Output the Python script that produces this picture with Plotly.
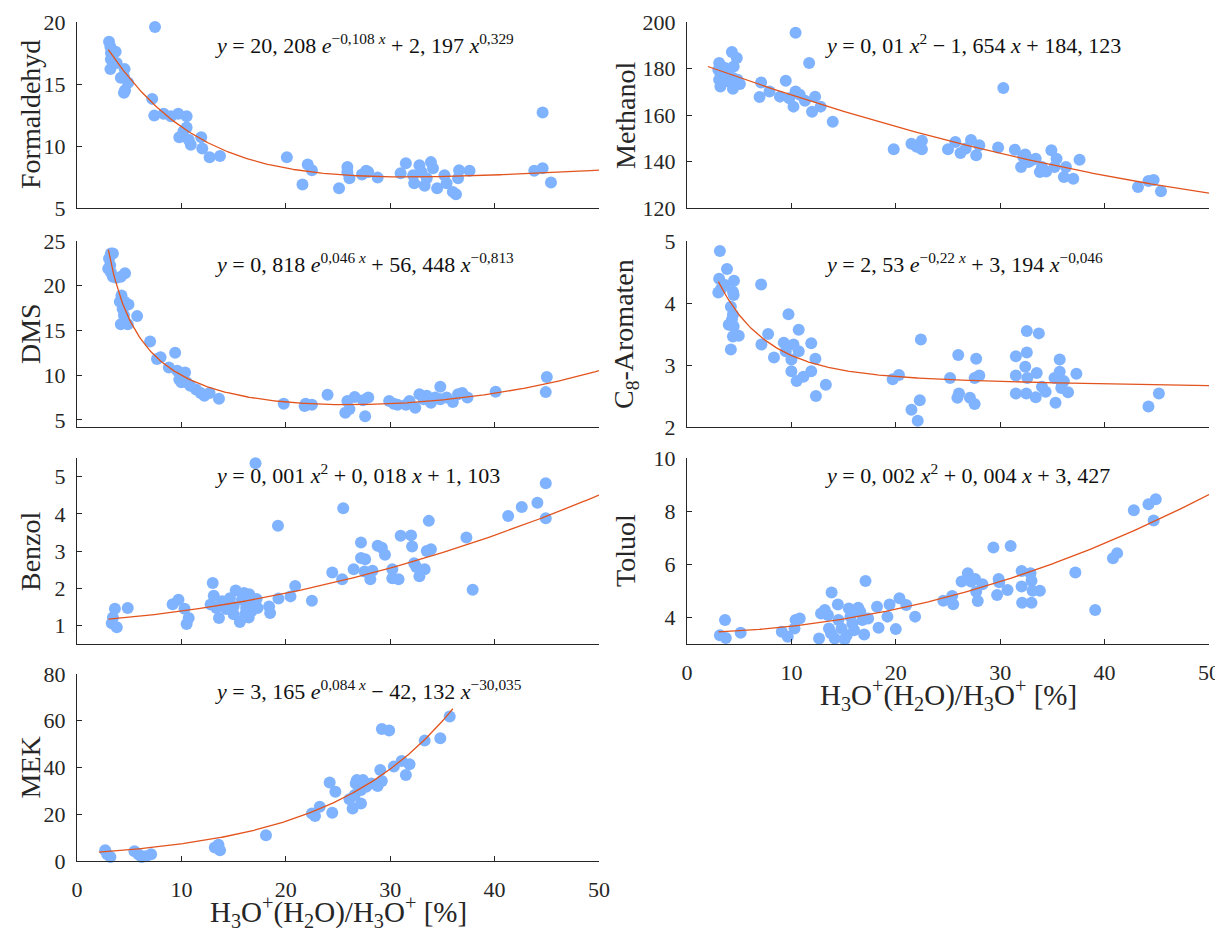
import numpy as np
import plotly.graph_objects as go

# ---------------- data ----------------
form_x = [3.07, 3.2, 3.25, 3.7, 3.25, 3.2, 3.8, 4.56, 4.5, 4.2, 4.9, 4.6, 4.5, 7.47, 7.2, 7.4, 8.3, 9.0, 9.7, 10.5,
          9.8, 10.2, 10.5, 10.7, 10.9, 11.9, 12.0, 12.7, 13.7, 20.1, 21.6, 22.1, 22.5, 25.1, 25.9, 26.1, 25.9, 27.3,
          27.7, 27.9, 28.8, 31.0, 31.5, 32.2, 32.3, 32.8, 33.0, 33.3, 33.5, 33.9, 34.1, 34.5, 35.2, 35.4, 36.0, 36.3,
          36.5, 36.6, 37.6, 43.8, 44.6, 44.6, 45.4]
form_y = [18.4, 18.0, 17.5, 17.6, 17.0, 16.2, 16.7, 16.2, 15.6, 15.5, 15.1, 14.5, 14.3, 19.6, 13.8, 12.45, 12.6, 12.4,
          12.6, 12.4, 10.7, 11.2, 11.5, 10.5, 10.1, 10.7, 9.8, 9.1, 9.2, 9.1, 6.9, 8.5, 8.05, 6.6, 8.3, 7.4, 7.9, 7.7,
          8.0, 7.9, 7.45, 7.8, 8.6, 7.65, 7.0, 8.45, 7.9, 6.8, 7.4, 8.7, 8.2, 6.6, 7.65, 7.0, 6.3, 6.1, 7.4, 8.05, 8.0,
          8.0, 8.2, 12.7, 7.05]

meth_x = [3.08, 3.27, 3.0, 3.2, 3.08, 3.2, 3.64, 3.83, 4.3, 4.47, 4.77, 4.4, 4.58, 4.4, 5.07, 4.84, 4.0, 7.1, 6.95,
          7.9, 8.9, 9.46, 9.8, 10.4, 10.4, 10.2, 10.8, 11.3, 11.7, 11.98, 12.27, 12.8, 13.96, 19.8, 21.5, 22.0, 22.5,
          22.5, 25.0, 25.7, 26.2, 26.7, 27.2, 27.7, 28.0, 29.8, 30.3, 31.4, 32.0, 32.2, 32.4, 32.7, 33.0, 33.4, 33.8,
          34.0, 34.4, 34.9, 35.4, 35.2, 36.1, 36.3, 37.0, 37.6, 43.2, 44.2, 44.7, 45.4]
meth_y = [182.4, 180.9, 179.5, 178.0, 175.2, 172.3, 180.2, 177.3, 187.1, 180.9, 184.5, 175.9, 173.7, 171.3, 173.3,
          175.2, 174.4, 174.0, 167.7, 170.1, 167.9, 174.7, 167.2, 195.4, 170.1, 163.6, 168.7, 166.1, 182.4, 161.4,
          167.9, 163.6, 157.1, 145.3, 147.6, 146.3, 148.9, 145.3, 145.3, 148.4, 143.7, 145.6, 149.2, 142.7, 147.0,
          146.0, 171.6, 145.1, 137.6, 142.0, 143.0, 139.8, 140.5, 141.2, 135.5, 137.6, 135.7, 144.8, 141.2, 137.6,
          133.3, 137.6, 132.6, 140.8, 129.0, 131.6, 132.0, 127.2]

dms_x = [3.25, 3.44, 3.07, 3.18, 2.99, 3.25, 3.44, 3.8, 4.2, 4.6, 4.26, 4.1, 4.56, 4.93, 4.37, 4.5, 4.2, 4.86, 5.76,
         7.0, 7.66, 8.0, 8.8, 9.4, 9.6, 10.35, 9.8, 10.0, 10.5, 10.85, 11.4, 11.85, 12.2, 12.7, 13.6, 19.8, 21.9,
         21.8, 22.5, 24.0, 25.7, 25.9, 26.1, 26.6, 27.4, 27.9, 27.6, 29.9, 30.35, 30.7, 31.5, 31.85, 32.4, 32.8, 33.2,
         33.5, 33.9, 34.3, 34.8, 34.8, 35.4, 36.0, 36.5, 36.9, 37.4, 40.1, 44.9, 45.0]
dms_y = [23.6, 23.6, 23.05, 22.3, 21.9, 21.5, 21.0, 20.9, 21.0, 21.4, 18.9, 18.2, 18.2, 17.9, 17.4, 16.7, 15.7, 15.7,
         16.6, 13.75, 11.8, 12.0, 10.85, 12.5, 10.5, 10.3, 9.5, 9.2, 9.2, 8.8, 8.4, 8.0, 7.7, 8.0, 7.35, 6.8, 6.8,
         6.55, 6.7, 7.8, 5.8, 7.1, 6.2, 7.55, 7.2, 7.5, 5.4, 7.1, 6.8, 6.7, 6.7, 7.1, 6.35, 7.85, 7.3, 7.7, 6.9, 7.5,
         8.7, 7.3, 7.5, 7.0, 7.85, 8.0, 7.5, 8.15, 8.1, 9.8]

c8_x = [3.15, 3.08, 3.0, 3.27, 3.83, 3.64, 4.5, 4.4, 4.47, 4.2, 4.4, 4.3, 4.0, 4.47, 4.4, 4.96, 4.2, 7.1, 7.13, 7.77,
        8.33, 9.27, 9.46, 9.72, 10.2, 10.0, 10.0, 10.7, 10.7, 10.5, 11.15, 11.9, 11.9, 12.3, 12.35, 13.3, 19.7, 20.3,
        21.5, 22.1, 22.4, 22.3, 25.2, 25.9, 26.05, 25.98, 27.1, 27.55, 27.7, 27.55, 28.0, 31.5, 31.5, 31.5, 32.4,
        32.55, 32.55, 32.5, 32.6, 33.5, 33.7, 33.4, 34.0, 34.35, 35.2, 35.3, 35.7, 35.7, 35.9, 35.85, 36.1, 36.5,
        37.3, 44.2, 45.2]
c8_y = [4.84, 4.39, 4.17, 4.23, 4.55, 4.29, 4.36, 4.18, 4.13, 3.94, 3.81, 3.73, 3.65, 3.62, 3.46, 3.47, 3.25, 4.30,
        3.33, 3.50, 3.12, 3.36, 3.22, 3.82, 3.33, 3.09, 2.90, 3.57, 3.22, 2.74, 2.81, 3.35, 2.90, 3.10, 2.50, 2.68,
        2.77, 2.84, 2.28, 2.10, 3.41, 2.43, 2.79, 2.47, 2.54, 3.16, 2.47, 2.37, 3.10, 2.79, 2.83, 3.14, 2.83, 2.54,
        2.97, 3.55, 3.20, 2.54, 2.79, 2.87, 3.51, 2.48, 2.65, 2.57, 2.79, 2.39, 3.09, 2.89, 2.71, 2.63, 2.74, 2.56,
        2.86, 2.33, 2.54]

benz_x = [3.33, 3.44, 3.63, 3.81, 4.86, 9.16, 9.72, 10.3, 10.7, 10.5, 13.0, 13.1, 12.8, 13.35, 13.6, 13.9, 14.3,
          14.65, 15.0, 15.2, 15.0, 15.6, 15.8, 16.0, 16.1, 16.2, 16.45, 16.5, 16.7, 17.1, 17.2, 17.3, 16.7, 18.4,
          18.5, 19.25, 19.3, 20.45, 20.9, 22.5, 24.45, 25.4, 25.5, 26.5, 27.2, 27.2, 27.6, 27.55, 28.3, 28.1, 28.8,
          29.2, 29.5, 30.2, 30.2, 30.8, 31.0, 32.0, 32.1, 32.3, 32.5, 32.8, 33.3, 33.7, 33.5, 33.9, 37.3, 37.9, 41.3,
          42.6, 44.1, 44.9, 44.9]
benz_y = [1.06, 1.21, 1.45, 0.95, 1.47, 1.57, 1.69, 1.45, 1.20, 1.04, 2.14, 1.80, 1.56, 1.47, 1.20, 1.65, 1.44, 1.73,
          1.51, 1.94, 1.30, 1.09, 1.69, 1.87, 1.29, 1.47, 1.21, 1.84, 1.60, 5.36, 1.71, 1.47, 1.38, 1.51, 1.33, 3.68,
          1.72, 1.78, 2.06, 1.66, 2.42, 2.24, 4.15, 2.51, 3.23, 2.81, 2.78, 2.45, 2.47, 2.24, 3.14, 3.09, 2.90, 2.51,
          2.27, 2.24, 3.41, 3.42, 3.12, 2.67, 2.57, 2.32, 2.51, 3.81, 3.0, 3.05, 3.36, 1.96, 3.94, 4.18, 4.30, 4.82,
          3.88]

tol_x = [3.15, 3.64, 3.72, 5.14, 9.08, 9.65, 10.3, 10.4, 10.8, 12.65, 12.84, 13.2, 13.5, 13.6, 13.85, 13.8, 14.15,
         14.45, 14.5, 14.8, 15.1, 15.3, 15.5, 15.65, 15.84, 16.0, 16.4, 16.6, 16.8, 16.97, 17.1, 17.35, 18.2, 18.35,
         19.2, 19.4, 20.0, 20.35, 21.0, 21.85, 24.55, 25.4, 25.5, 26.3, 26.9, 27.2, 27.6, 27.7, 27.85, 28.3, 29.35,
         29.7, 29.85, 29.9, 30.7, 31.0, 32.05, 32.05, 32.1, 32.9, 33.0, 33.1, 33.0, 33.8, 37.2, 39.1, 40.8, 41.2,
         42.8, 44.2, 44.9, 44.7]
tol_y = [3.33, 3.90, 3.23, 3.42, 3.46, 3.27, 3.58, 3.90, 3.96, 3.21, 4.15, 4.28, 4.09, 3.58, 4.94, 3.40, 3.21, 4.49,
         3.90, 3.58, 3.18, 3.33, 4.34, 4.03, 3.77, 3.52, 4.36, 4.21, 3.90, 3.36, 5.37, 3.96, 4.40, 3.61, 4.03, 4.49,
         3.56, 4.72, 4.47, 4.03, 4.63, 4.81, 4.50, 5.35, 5.66, 5.35, 5.45, 4.97, 4.62, 5.25, 6.63, 4.84, 5.45, 5.32,
         5.03, 6.69, 5.75, 5.16, 4.55, 5.66, 5.38, 5.0, 4.55, 5.0, 5.69, 4.28, 6.23, 6.42, 8.03, 8.26, 8.45, 7.65]

mek_x = [2.7, 2.9, 3.2, 5.5, 5.9, 6.2, 6.6, 7.1, 13.2, 13.55, 13.7, 18.1, 22.5, 22.8, 23.25, 24.2, 24.45, 24.75, 26.1,
         26.4, 26.6, 26.7, 26.8, 27.2, 27.2, 27.4, 27.7, 28.2, 28.8, 29.05, 29.2, 29.2, 29.9, 30.35, 31.1, 31.5,
         31.85, 33.3, 34.8, 35.7]
mek_y = [4.6, 2.9, 1.75, 4.2, 2.75, 1.75, 2.0, 2.9, 5.75, 7.0, 4.6, 11.0, 20.3, 19.3, 23.2, 33.6, 20.6, 29.6, 26.4,
         22.5, 28.2, 33.2, 34.6, 24.6, 30.4, 34.6, 31.8, 33.2, 32.1, 38.9, 34.2, 56.5, 55.8, 40.4, 42.8, 36.8, 41.4,
         51.5, 52.5, 61.8]

# fit coefficients as printed in the chart
form_fit = [20.208, -0.108, 2.197, 0.329]      # a*exp(b x) + c*x^d
meth_fit = [0.01, -1.654, 184.123]             # polynomial
dms_fit = [0.818, 0.046, 56.448, -0.813]
c8_fit = [2.53, -0.22, 3.194, -0.046]
benz_fit = [0.001, 0.018, 1.103]
tol_fit = [0.002, 0.004, 3.427]
mek_fit = [3.165, 0.084, -42.132, -30.035]

x_ticks = [0, 10, 20, 30, 40, 50]
x_title = "H<sub>3</sub>O<sup>+</sup>(H<sub>2</sub>O)/H<sub>3</sub>O<sup>+</sup> [%]"

panels = [
    dict(name="Formaldehyd", x=form_x, y=form_y, fit=form_fit, kind="exp", xr=(3.0, 50),
         yrange=[5, 20], yticks=[5, 10, 15, 20],
         eq="<i>y</i> = 20, 208 <i>e</i><sup>−0,108 <i>x</i></sup> + 2, 197 <i>x</i><sup>0,329</sup>"),
    dict(name="Methanol", x=meth_x, y=meth_y, fit=meth_fit, kind="poly", xr=(2.0, 50),
         yrange=[120, 200], yticks=[120, 140, 160, 180, 200],
         eq="<i>y</i> = 0, 01 <i>x</i><sup>2</sup> − 1, 654 <i>x</i> + 184, 123"),
    dict(name="DMS", x=dms_x, y=dms_y, fit=dms_fit, kind="exp", xr=(3.0, 50),
         yrange=[4.2, 25], yticks=[5, 10, 15, 20, 25],
         eq="<i>y</i> = 0, 818 <i>e</i><sup>0,046 <i>x</i></sup> + 56, 448 <i>x</i><sup>−0,813</sup>"),
    dict(name="C<sub>8</sub>-Aromaten", x=c8_x, y=c8_y, fit=c8_fit, kind="exp", xr=(3.0, 50),
         yrange=[2, 5], yticks=[2, 3, 4, 5],
         eq="<i>y</i> = 2, 53 <i>e</i><sup>−0,22 <i>x</i></sup> + 3, 194 <i>x</i><sup>−0,046</sup>"),
    dict(name="Benzol", x=benz_x, y=benz_y, fit=benz_fit, kind="poly", xr=(3.0, 50),
         yrange=[0.5, 5.5], yticks=[1, 2, 3, 4, 5],
         eq="<i>y</i> = 0, 001 <i>x</i><sup>2</sup> + 0, 018 <i>x</i> + 1, 103"),
    dict(name="Toluol", x=tol_x, y=tol_y, fit=tol_fit, kind="poly", xr=(3.0, 50),
         yrange=[3, 10], yticks=[4, 6, 8, 10],
         eq="<i>y</i> = 0, 002 <i>x</i><sup>2</sup> + 0, 004 <i>x</i> + 3, 427"),
    dict(name="MEK", x=mek_x, y=mek_y, fit=mek_fit, kind="exp", xr=(2.1, 36.0),
         yrange=[0, 80], yticks=[0, 20, 40, 60, 80],
         eq="<i>y</i> = 3, 165 <i>e</i><sup>0,084 <i>x</i></sup> − 42, 132 <i>x</i><sup>−30,035</sup>"),
]

# ---------------- layout geometry (page body adds an 8 px offset) ----------------
OFF = 8
W, H = 1223 - OFF, 928 - OFF
col_px = [(77 - OFF, 599 - OFF), (687 - OFF, 1209 - OFF)]
row_px = [(22 - OFF, 208 - OFF), (241 - OFF, 427 - OFF), (458 - OFF, 644 - OFF), (674 - OFF, 861 - OFF)]
eq_off = [22, 22, 16, 16]
ytitle_x = [30 - OFF, 625 - OFF]
xtitle_gap = 51

FONT = "Liberation Serif"
AX = "#262626"
MARK = "#80B3FF"
LINE = "#E2531D"


def fit_curve(kind, c, xs):
    xs = np.asarray(xs)
    if kind == "poly":
        return np.polyval(c, xs)
    return c[0] * np.exp(c[1] * xs) + c[2] * xs ** c[3]


fig = go.Figure()
layout = dict(width=W, height=H, margin=dict(l=0, r=0, t=0, b=0, autoexpand=False), showlegend=False,
              plot_bgcolor="white", paper_bgcolor="white",
              font=dict(family=FONT, size=22, color=AX))
annotations = []

# markers first
for i, p in enumerate(panels):
    k = "" if i == 0 else str(i + 1)
    fig.add_trace(go.Scatter(x=p["x"], y=p["y"], mode="markers", xaxis="x" + k, yaxis="y" + k,
                             marker=dict(size=12, color=MARK, line=dict(width=0)), cliponaxis=False,
                             hoverinfo="skip"))
# fitted lines on top
for i, p in enumerate(panels):
    k = "" if i == 0 else str(i + 1)
    xs = np.linspace(p["xr"][0], p["xr"][1], 300)
    fig.add_trace(go.Scatter(x=xs, y=fit_curve(p["kind"], p["fit"], xs), mode="lines",
                             xaxis="x" + k, yaxis="y" + k, line=dict(color=LINE, width=1.3),
                             hoverinfo="skip"))

for i, p in enumerate(panels):
    r, c = divmod(i, 2)
    k = "" if i == 0 else str(i + 1)
    x0, x1 = col_px[c]
    y0, y1 = row_px[r]
    show_x = p["name"] in ("Toluol", "MEK")
    layout["xaxis" + k] = dict(domain=[x0 / W, x1 / W], anchor="y" + k, range=[0, 50],
                               tickvals=x_ticks, showticklabels=show_x, ticks="inside", ticklen=5,
                               tickcolor=AX, showline=True, linecolor=AX, linewidth=1.2,
                               showgrid=False, zeroline=False, ticklabelstandoff=8, automargin=False,
                               tickfont=dict(size=22, family=FONT, color=AX))
    layout["yaxis" + k] = dict(domain=[1 - y1 / H, 1 - y0 / H], anchor="x" + k, range=p["yrange"],
                               tickvals=p["yticks"], ticks="inside", ticklen=5, tickcolor=AX,
                               showline=True, linecolor=AX, linewidth=1.2, showgrid=False,
                               zeroline=False, ticklabelstandoff=6, automargin=False,
                               tickfont=dict(size=22, family=FONT, color=AX))
    # equation
    annotations.append(dict(text=p["eq"], x=13.0, y=1 - eq_off[r] / (y1 - y0), xref="x" + k,
                            yref=("y" + k) + " domain", xanchor="left", yanchor="middle",
                            showarrow=False, font=dict(size=22, family=FONT, color="#111111")))
    # y title
    annotations.append(dict(text=p["name"], x=ytitle_x[c] / W, xref="paper", y=0.5,
                            yref=("y" + k) + " domain", textangle=-90, xanchor="center",
                            yanchor="middle", showarrow=False,
                            font=dict(size=28, family=FONT, color=AX)))
    if show_x:
        annotations.append(dict(text=x_title, x=0.5, xref=("x" + k) + " domain",
                                y=1 - (y1 + xtitle_gap) / H, yref="paper", xanchor="center",
                                yanchor="middle", showarrow=False,
                                font=dict(size=29, family=FONT, color=AX)))

layout["annotations"] = annotations
fig.update_layout(**layout)
fig.write_html("out.html")
